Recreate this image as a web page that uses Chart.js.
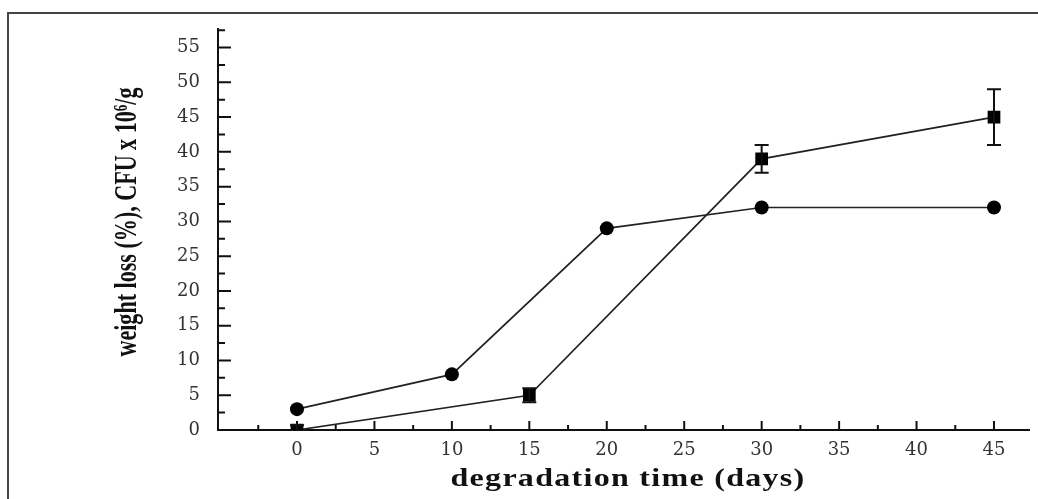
<!DOCTYPE html>
<html>
<head>
<meta charset="utf-8">
<script src="https://cdn.jsdelivr.net/npm/chart.js@4/dist/chart.umd.min.js"></script>
<style>
  html, body { margin: 0; padding: 0; background: #fff; }
  #wrap { width: 1038px; height: 499px; }
</style>
</head>
<body>
<div id="wrap"><canvas id="lossChart" width="1038" height="499"></canvas></div>
<script>
// Values
const circleDays = [0, 10, 20, 30, 45];
const circleValues = [3, 8, 29, 32, 32];

const squareDays = [0, 15, 30, 45];
const squareValues = [0, 5, 39, 45];
const squareErrors = [0.7, 1, 2, 4];

const xTickValues = [0, 5, 10, 15, 20, 25, 30, 35, 40, 45];
const xMinorTicks = [-2.5, 2.5, 7.5, 12.5, 17.5, 22.5, 27.5, 32.5, 37.5, 42.5];
const yTickValues = [0, 5, 10, 15, 20, 25, 30, 35, 40, 45, 50, 55];
const yMinorTicks = [2.5, 7.5, 12.5, 17.5, 22.5, 27.5, 32.5, 37.5, 42.5, 47.5, 52.5, 57.5];

const yTitle = 'weight loss (%), CFU x 10\u2076/g';
const xTitle = 'degradation time (days)';

const toPoints = (xs, ys) => xs.map((x, i) => ({ x: x, y: ys[i] }));

// frame round the figure, inward ticks, error bars and titles
const extras = {
  id: 'extras',
  beforeDraw(chart) {
    const ctx = chart.ctx;
    ctx.save();
    ctx.strokeStyle = '#444';
    ctx.lineWidth = 2;
    ctx.beginPath();
    ctx.moveTo(8, 499);
    ctx.lineTo(8, 13);
    ctx.lineTo(1038, 13);
    ctx.stroke();
    ctx.restore();
  },
  afterDatasetsDraw(chart) {
    const ctx = chart.ctx;
    const xs = chart.scales.x, ys = chart.scales.y;
    const area = chart.chartArea;
    ctx.save();
    ctx.strokeStyle = '#111';
    ctx.lineWidth = 2;
    ctx.beginPath();
    xTickValues.forEach(v => {
      const px = xs.getPixelForValue(v);
      ctx.moveTo(px, area.bottom); ctx.lineTo(px, area.bottom - 9);
    });
    xMinorTicks.forEach(v => {
      const px = xs.getPixelForValue(v);
      ctx.moveTo(px, area.bottom); ctx.lineTo(px, area.bottom - 5);
    });
    yTickValues.forEach(v => {
      const py = ys.getPixelForValue(v);
      ctx.moveTo(area.left, py); ctx.lineTo(area.left + 13, py);
    });
    yMinorTicks.forEach(v => {
      const py = ys.getPixelForValue(v);
      ctx.moveTo(area.left, py); ctx.lineTo(area.left + 7, py);
    });
    ctx.stroke();

    // error bars on the squares
    ctx.beginPath();
    squareDays.forEach((d, i) => {
      const px = xs.getPixelForValue(d);
      const top = ys.getPixelForValue(squareValues[i] + squareErrors[i]);
      const bot = Math.min(ys.getPixelForValue(squareValues[i] - squareErrors[i]), area.bottom);
      ctx.moveTo(px, top); ctx.lineTo(px, bot);
      ctx.moveTo(px - 7, top); ctx.lineTo(px + 7, top);
      if (bot < area.bottom) { ctx.moveTo(px - 7, bot); ctx.lineTo(px + 7, bot); }
    });
    ctx.stroke();

    // y title, bold condensed serif
    ctx.fillStyle = '#111';
    ctx.font = 'bold 32px "Liberation Serif", serif';
    ctx.textAlign = 'center';
    ctx.textBaseline = 'middle';
    let w = ctx.measureText(yTitle).width;
    ctx.save();
    ctx.translate(128, 222);
    ctx.rotate(-Math.PI / 2);
    ctx.scale(269 / w, 1);
    ctx.fillText(yTitle, 0, 0);
    ctx.restore();

    // x title, bold wide serif
    ctx.font = 'bold 25px "Liberation Serif", serif';
    ctx.letterSpacing = '1px';
    w = ctx.measureText(xTitle).width;
    ctx.save();
    ctx.translate(628, 480);
    ctx.scale(355 / w, 1);
    ctx.fillText(xTitle, 0, 0);
    ctx.restore();
    ctx.restore();
  }
};

new Chart(document.getElementById('lossChart'), {
  type: 'line',
  data: {
    datasets: [
      {
        label: 'circles',
        data: toPoints(circleDays, circleValues),
        borderColor: '#222',
        borderWidth: 1.7,
        backgroundColor: '#000',
        pointStyle: 'circle',
        pointRadius: 7,
        pointBorderWidth: 0,
        pointBackgroundColor: '#000',
        tension: 0
      },
      {
        label: 'squares',
        data: toPoints(squareDays, squareValues),
        borderColor: '#222',
        borderWidth: 1.7,
        backgroundColor: '#000',
        pointStyle: 'rect',
        pointRadius: 9,
        pointBorderWidth: 0,
        pointBackgroundColor: '#000',
        tension: 0
      }
    ]
  },
  options: {
    responsive: false,
    animation: false,
    layout: { padding: { left: 0, right: 8, top: 23, bottom: 0 } },
    plugins: {
      legend: { display: false },
      tooltip: { enabled: false },
      title: { display: false }
    },
    scales: {
      x: {
        type: 'linear',
        min: -5.1,
        max: 47.26,
        afterBuildTicks: s => { s.ticks = xTickValues.map(v => ({ value: v })); },
        afterFit: s => { s.height = 69; },
        grid: { display: false, drawTicks: false },
        border: { display: true, color: '#111', width: 2 },
        ticks: {
          padding: 10,
          color: '#333',
          font: { family: '"DejaVu Serif", serif', size: 18 },
          maxRotation: 0,
          callback: v => String(v)
        }
      },
      y: {
        type: 'linear',
        min: 0,
        max: 57.7,
        afterBuildTicks: s => { s.ticks = yTickValues.map(v => ({ value: v })); },
        afterFit: s => { s.width = 218; },
        grid: { display: false, drawTicks: false },
        border: { display: true, color: '#111', width: 2 },
        ticks: {
          padding: 18,
          color: '#333',
          font: { family: '"DejaVu Serif", serif', size: 18 },
          callback: v => String(v)
        }
      }
    }
  },
  plugins: [extras]
});
</script>
</body>
</html>
